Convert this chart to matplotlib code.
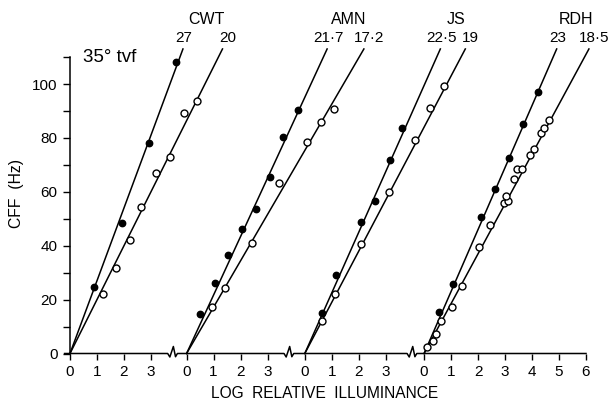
import numpy as np
import matplotlib
matplotlib.use("Agg")
import matplotlib.pyplot as plt

plt.rcParams['font.family'] = ['Liberation Sans', 'DejaVu Sans']

# subjects, slopes (Hz per log unit) of the fitted lines
subjects = ["CWT", "AMN", "JS", "RDH"]
slope_labels_filled = ["27", "21\u00b77", "22\u00b75", "23"]
slope_labels_open = ["20", "17\u00b72", "19", "18\u00b75"]
slopes_filled = [27, 21.7, 22.5, 23]
slopes_open = [20, 17.2, 19, 18.5]

# CWT
cwt_filled_x = [0.90, 1.91, 2.94, 3.93]
cwt_filled_y = [24.8, 48.3, 78.0, 108.0]
cwt_open_x = [1.21, 1.70, 2.21, 2.62, 3.17, 3.70, 4.22, 4.71]
cwt_open_y = [22.0, 31.8, 42.1, 54.2, 67.1, 72.8, 89.1, 93.8]

# AMN
amn_filled_x = [0.49, 1.07, 1.54, 2.06, 2.56, 3.09, 3.59, 4.11]
amn_filled_y = [14.7, 26.3, 36.5, 46.2, 53.6, 65.4, 80.4, 90.4]
amn_open_x = [0.93, 1.43, 2.42, 3.44, 4.48, 4.99, 5.47]
amn_open_y = [17.1, 24.4, 40.9, 63.4, 78.6, 86.0, 90.6]

# JS
js_filled_x = [0.62, 1.15, 2.10, 2.59, 3.14, 3.59]
js_filled_y = [15.1, 29.0, 48.9, 56.7, 71.8, 83.6]
js_open_x = [0.62, 1.11, 2.10, 3.11, 4.07, 4.63, 5.16]
js_open_y = [12.2, 22.1, 40.6, 59.8, 79.2, 91.0, 99.4]

# RDH
rdh_filled_x = [0.56, 1.09, 2.10, 2.63, 3.15, 3.65, 4.21]
rdh_filled_y = [15.5, 25.8, 50.5, 60.9, 72.4, 85.0, 97.1]
rdh_open_x = [0.09, 0.33, 0.43, 0.61, 1.02, 1.39, 2.04, 2.44, 2.96, 3.10,
              3.02, 3.34, 3.44, 3.64, 3.91, 4.07, 4.35, 4.45, 4.64]
rdh_open_y = [2.3, 4.8, 7.2, 12.2, 17.1, 25.0, 39.6, 47.7, 55.7, 56.7,
              58.4, 64.9, 68.5, 68.5, 73.5, 75.9, 81.9, 83.7, 86.5]

filled_x = [cwt_filled_x, amn_filled_x, js_filled_x, rdh_filled_x]
filled_y = [cwt_filled_y, amn_filled_y, js_filled_y, rdh_filled_y]
open_x = [cwt_open_x, amn_open_x, js_open_x, rdh_open_x]
open_y = [cwt_open_y, amn_open_y, js_open_y, rdh_open_y]

tick_counts = [3, 3, 3, 6]   # last x tick of each panel

# layout: where each panel's zero sits on the shared axis, break positions
offsets = [0.0, 4.32, 8.70, 13.12]
breaks = [3.78, 8.09, 12.65]
y_top = 113

fig = plt.figure(figsize=(6.12, 4.01), dpi=100)
ax = fig.add_axes([70 / 612, 47.5 / 401, 516 / 612, y_top * 2.695 / 401])
ax.set_xlim(0, offsets[-1] + tick_counts[-1])
ax.set_ylim(0, y_top)

for i in range(4):
    off = offsets[i]
    for s in (slopes_filled[i], slopes_open[i]):
        ax.plot([off, off + y_top / s], [0, y_top], color='black', lw=1.1,
                clip_on=False, zorder=2)
    ax.plot(np.array(filled_x[i]) + off, filled_y[i], 'o', color='black',
            ms=4.6, clip_on=False, zorder=3)
    ax.plot(np.array(open_x[i]) + off, open_y[i], 'o', mfc='white', mec='black',
            ms=5.0, mew=1.0, clip_on=False, zorder=3)

    xf = off + y_top / slopes_filled[i] + 0.04
    xo = off + y_top / slopes_open[i] + 0.2
    ax.text(xf, 117, slope_labels_filled[i], ha='center', va='center', fontsize=11)
    ax.text(xo, 117, slope_labels_open[i], ha='center', va='center', fontsize=11)
    ax.text((xf + xo) / 2, 124, subjects[i], ha='center', va='center', fontsize=11.5)

# bottom axis line with break marks
for sp in ['top', 'right', 'bottom']:
    ax.spines[sp].set_visible(False)
ax.spines['left'].set_bounds(0, 110)
ax.spines['left'].set_linewidth(1.1)

bx = [-0.2]
by = [0]
zx = np.array([-0.16, -0.08, 0.05, 0.13, 0.2])
zy = np.array([0, -1.3, 2.6, -1.2, 0])
for b in breaks:
    bx += list(b + zx)
    by += list(zy)
bx.append(offsets[-1] + tick_counts[-1])
by.append(0)
ax.plot(bx, by, color='black', lw=1.1, clip_on=False, zorder=2)

xticks = []
xlabels = []
for off, n in zip(offsets, tick_counts):
    for k in range(n + 1):
        xticks.append(off + k)
        xlabels.append(str(k))
ax.set_xticks(xticks)
ax.set_xticklabels(xlabels, fontsize=11)
ax.tick_params(axis='x', direction='out', length=4, width=1, pad=4)

ax.set_yticks([0, 20, 40, 60, 80, 100])
ax.set_yticks([10, 30, 50, 70, 90, 110], minor=True)
ax.tick_params(axis='y', which='both', direction='out', length=5, width=1, pad=4,
               labelsize=11)

ax.text(0.48, 110, "35\u00b0 tvf", ha='left', va='center', fontsize=13.5)

fig.text(325 / 612, 1 - 393 / 401, "LOG  RELATIVE  ILLUMINANCE", ha='center',
         va='center', fontsize=11.2)
fig.text(16 / 612, 1 - 193 / 401, "CFF  (Hz)", ha='center', va='center',
         rotation=90, fontsize=11.3)

fig.savefig("out.png", dpi=100)
